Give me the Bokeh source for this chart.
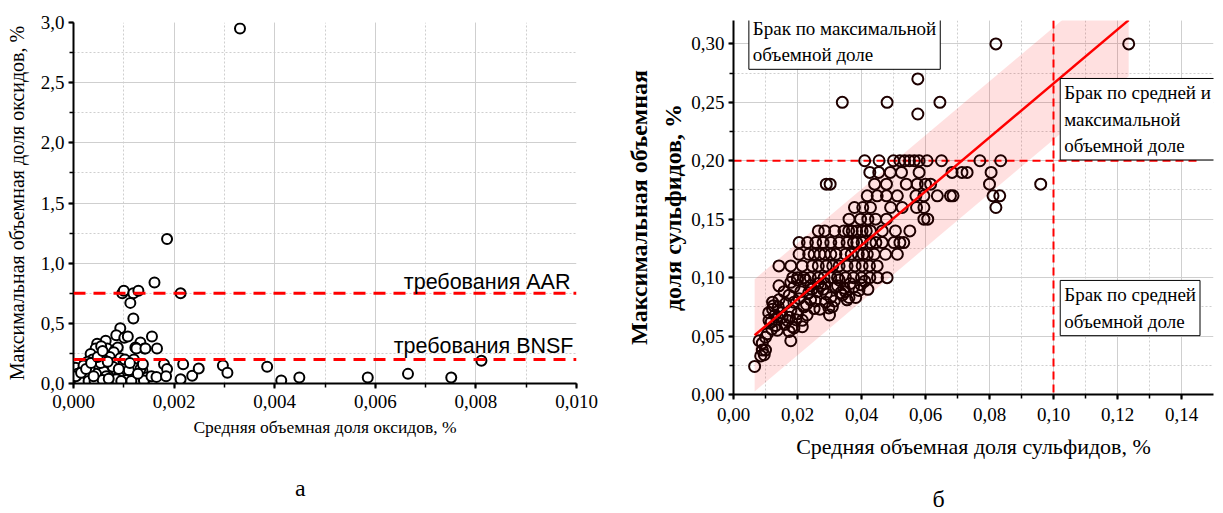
from bokeh.plotting import figure
from bokeh.layouts import row, column
from bokeh.models import (SingleIntervalTicker, CustomJSTickFormatter, Label, Span)
from bokeh.embed import file_html
from bokeh.resources import INLINE

SERIF = "Liberation Serif"
SANS = "Liberation Sans"

# ---- panel "а": oxides (mean vs max volume fraction, %) ----
oxide_mean = [
    0.00331, 0.00186, 0.00161, 0.00097, 0.00100, 0.00119, 0.00129, 0.00213, 0.00113, 0.00119,
    0.00093, 0.00085, 0.00101, 0.00108, 0.00133, 0.00141, 0.00123, 0.00125, 0.00143, 0.00156,
    0.00166, 0.00064, 0.00047, 0.00044, 0.00034, 0.00067, 0.00083, 0.00088, 0.00080, 0.00055,
    0.00060, 0.00072, 0.00038, 0.00050, 0.00093, 0.00120, 0.00028,
    0.00022, 0.00004, 0.00017, 0.00040, 0.00050, 0.00070, 0.00074, 0.00100, 0.00100, 0.00120,
    0.00137, 0.00146, 0.00120, 0.00017, 0.00034, 0.00050, 0.00010, 0.00020, 0.00097, 0.00117,
    0.00133, 0.00080, 0.00063, 0.00030, 0.00060, 0.00085, 0.00110, 0.00026, 0.00045, 0.00065,
    0.00090, 0.00105, 0.00130, 0.00008, 0.00002, 0.00012, 0.00030, 0.00042, 0.00058, 0.00075,
    0.00085, 0.00095, 0.00115, 0.00140, 0.00155, 0.00054, 0.00032, 0.00078,
    0.00005, 0.00015, 0.00025, 0.00035, 0.00048, 0.00058, 0.00068, 0.00090, 0.00102, 0.00112,
    0.00128, 0.00138, 0.00070, 0.00040,
    0.00165, 0.00180, 0.00186, 0.00184, 0.00218, 0.00213, 0.00236, 0.00249, 0.00297, 0.00306,
    0.00385, 0.00413, 0.00449, 0.00585, 0.00665, 0.00751, 0.00811,
]
oxide_max = [
    2.95, 1.20, 0.84, 0.75, 0.77, 0.75, 0.77, 0.75, 0.67, 0.54,
    0.46, 0.40, 0.38, 0.39, 0.34, 0.29, 0.30, 0.29, 0.29, 0.39,
    0.29, 0.355, 0.33, 0.29, 0.245, 0.29, 0.28, 0.30, 0.26, 0.31,
    0.25, 0.22, 0.20, 0.21, 0.21, 0.20, 0.18,
    0.16, 0.13, 0.105, 0.16, 0.13, 0.13, 0.08, 0.16, 0.08, 0.055,
    0.105, 0.05, 0.13, 0.05, 0.045, 0.04, 0.04, 0.15, 0.15, 0.065,
    0.12, 0.17, 0.19, 0.10, 0.10, 0.11, 0.11, 0.07, 0.08, 0.06,
    0.06, 0.03, 0.03, 0.08, 0.02, 0.02, 0.02, 0.02, 0.03, 0.02,
    0.035, 0.02, 0.02, 0.025, 0.06, 0.17, 0.13, 0.14,
    0.06, 0.09, 0.12, 0.17, 0.22, 0.27, 0.18, 0.12, 0.20, 0.17,
    0.08, 0.16, 0.04, 0.06,
    0.055, 0.16, 0.12, 0.06, 0.16, 0.035, 0.065, 0.125, 0.15, 0.09,
    0.14, 0.025, 0.05, 0.05, 0.08, 0.05, 0.19,
]
limit_aar = 0.75
limit_bnsf = 0.20

# ---- panel "б": sulfides ----
# rows of equal maximum fraction (upper part of the cloud)
row_max = [0.30, 0.27, 0.25, 0.24, 0.20, 0.19, 0.18, 0.17, 0.16, 0.15, 0.14, 0.13, 0.12, 0.11, 0.10]
row_mean = [
    [0.082, 0.1235],
    [0.0576],
    [0.034, 0.048, 0.0645],
    [0.0576],
    [0.041, 0.0455, 0.050, 0.052, 0.0535, 0.055, 0.0565, 0.058, 0.0605, 0.065, 0.077, 0.0835],
    [0.0426, 0.0454, 0.049, 0.0525, 0.058, 0.0683, 0.0714, 0.073, 0.0805],
    [0.029, 0.0302, 0.0441, 0.0478, 0.054, 0.0574, 0.060, 0.0616, 0.080, 0.096],
    [0.0418, 0.0449, 0.0478, 0.0512, 0.057, 0.0595, 0.0637, 0.0678, 0.0686, 0.0811, 0.0832],
    [0.0378, 0.0404, 0.0428, 0.0491, 0.0527, 0.0572, 0.0595, 0.082],
    [0.0361, 0.0397, 0.042, 0.0444, 0.0478, 0.0595, 0.0607],
    [0.0265, 0.0285, 0.0316, 0.0345, 0.036, 0.0371, 0.0385, 0.0402, 0.0415, 0.0428, 0.0465, 0.0506, 0.0551],
    [0.0205, 0.0231, 0.0257, 0.028, 0.0304, 0.033, 0.0355, 0.0375, 0.0385, 0.0402, 0.0428, 0.0445,
     0.0465, 0.0501, 0.052, 0.0532],
    [0.0205, 0.0235, 0.0252, 0.027, 0.0285, 0.0304, 0.032, 0.035, 0.0368, 0.039, 0.0405, 0.0418,
     0.044, 0.0475, 0.0512],
    [0.0142, 0.0179, 0.0215, 0.0246, 0.0265, 0.029, 0.031, 0.033, 0.0355, 0.038, 0.0402, 0.0425, 0.0449],
    [0.0185, 0.020, 0.022, 0.024, 0.0265, 0.0283, 0.0304, 0.0325, 0.035, 0.0375, 0.040, 0.0426, 0.045, 0.048],
]
# lower part of the cloud
low_mean = [
    0.0066, 0.0085, 0.0090, 0.0096, 0.0100, 0.0090, 0.0080, 0.0100, 0.0106, 0.0120,
    0.0132, 0.0137, 0.0111, 0.0137, 0.0122, 0.0125, 0.0122, 0.0142, 0.0158, 0.0174,
    0.0142, 0.0179, 0.0189, 0.0174, 0.0179, 0.0184, 0.0189, 0.0168, 0.0179, 0.0200,
    0.0215, 0.0220, 0.0241, 0.0252, 0.0262, 0.0272, 0.0288, 0.0300, 0.0304, 0.0319,
    0.0345, 0.0361, 0.0355, 0.0382, 0.0392, 0.0241, 0.0225, 0.0210, 0.0200, 0.0189,
    0.0163, 0.0309, 0.0285, 0.0330, 0.0365, 0.0410, 0.0150, 0.0160, 0.0195, 0.0230,
    0.0255, 0.0270, 0.0290, 0.0315, 0.0335, 0.0375, 0.0420, 0.0205, 0.0235, 0.0265,
    0.0140, 0.0130, 0.0110, 0.0175, 0.0215, 0.0245, 0.0280, 0.0325, 0.0350, 0.0398,
    0.0152, 0.0118, 0.0228, 0.0298, 0.0340,
]
low_max = [
    0.024, 0.033, 0.038, 0.034, 0.038, 0.044, 0.046, 0.049, 0.052, 0.056,
    0.059, 0.055, 0.0635, 0.066, 0.073, 0.076, 0.079, 0.081, 0.088, 0.085,
    0.093, 0.096, 0.092, 0.054, 0.046, 0.058, 0.057, 0.0635, 0.072, 0.069,
    0.0635, 0.075, 0.081, 0.0735, 0.088, 0.093, 0.079, 0.068, 0.083, 0.092,
    0.091, 0.083, 0.081, 0.083, 0.089, 0.093, 0.098, 0.088, 0.098, 0.079,
    0.078, 0.075, 0.095, 0.098, 0.095, 0.097, 0.070, 0.060, 0.064, 0.068,
    0.080, 0.073, 0.086, 0.080, 0.087, 0.092, 0.090, 0.082, 0.087, 0.095,
    0.075, 0.068, 0.070, 0.066, 0.058, 0.090, 0.090, 0.093, 0.088, 0.094,
    0.066, 0.062, 0.077, 0.074, 0.085,
]
# linear fit max = a + b*mean and half-width of its band
fit_a = 0.0354
fit_b = 2.307
band_half = 0.048
reject_mean = 0.10
reject_max = 0.20

panel_letters = ["а", "б"]

sulf_mean = [x for xs in row_mean for x in xs] + low_mean
sulf_max = [y for y, xs in zip(row_max, row_mean) for _ in xs] + low_max


def comma(digits):
    return CustomJSTickFormatter(code="return tick.toFixed(%d).replace('.', ',');" % digits)


def style(p, xint, yint, xdig, ydig):
    p.outline_line_color = None
    p.background_fill_color = "white"
    p.border_fill_color = "white"
    p.xaxis.ticker = SingleIntervalTicker(interval=xint, num_minor_ticks=2)
    p.yaxis.ticker = SingleIntervalTicker(interval=yint, num_minor_ticks=2)
    p.xgrid.ticker = p.xaxis.ticker
    p.ygrid.ticker = p.yaxis.ticker
    p.xaxis.formatter = comma(xdig)
    p.yaxis.formatter = comma(ydig)
    for ax in (p.xaxis, p.yaxis):
        ax.axis_line_width = 2
        ax.axis_line_color = "black"
        ax.major_tick_line_width = 2
        ax.major_tick_out = 5
        ax.major_tick_in = 0
        ax.minor_tick_line_width = 1.5
        ax.minor_tick_out = 4
        ax.minor_tick_in = 0
        ax.major_label_text_font = SERIF
        ax.major_label_text_font_size = "19px"
        ax.major_label_text_color = "black"
        ax.axis_label_text_font = SERIF
        ax.axis_label_text_font_size = "19px"
        ax.axis_label_text_font_style = "normal"
        ax.axis_label_text_color = "black"
    for g in (p.xgrid, p.ygrid):
        g.grid_line_color = "#cfcfcf"
        g.grid_line_width = 1
        g.minor_grid_line_color = "#cfcfcf"
        g.minor_grid_line_dash = "2 2"
        g.minor_grid_line_width = 1


def letter_strip(chart, height, x, y_from_top, text):
    # a thin, axis-less strip under a chart, sharing its horizontal scale
    s = figure(width=chart.width, height=height,
               x_range=(chart.x_range.start, chart.x_range.end), y_range=(0, height),
               output_backend="svg", toolbar_location=None,
               x_axis_location=None, y_axis_location=None,
               min_border_left=chart.min_border_left, min_border_right=chart.min_border_right,
               min_border_top=0, min_border_bottom=0)
    s.outline_line_color = None
    s.background_fill_color = "white"
    s.border_fill_color = "white"
    s.xgrid.visible = False
    s.ygrid.visible = False
    s.add_layout(Label(x=x, y=height - y_from_top, text=text, text_align="center",
                       text_baseline="middle", text_font=SERIF, text_font_size="24px",
                       text_color="black"))
    return s


TOTAL_W, TOTAL_H = 1223, 513
LEFT_W = 620
LEFT_H, RIGHT_H = 470, 480

# ---- panel "а" ----
p1 = figure(width=LEFT_W, height=LEFT_H, x_range=(0, 0.010), y_range=(0, 3.0),
            output_backend="svg", toolbar_location=None,
            min_border_left=73, min_border_right=44, min_border_top=22, min_border_bottom=LEFT_H - 383)
style(p1, 0.002, 0.5, 3, 1)
p1.xaxis.axis_label = "Средняя объемная доля оксидов, %"
p1.yaxis.axis_label = "Максимальная объемная доля оксидов, %"
p1.xaxis.axis_label_text_font_size = "17.5px"
p1.yaxis.axis_label_text_font_size = "20px"
p1.xaxis.major_label_standoff = 6
p1.xaxis.axis_label_standoff = 6
p1.yaxis.major_label_standoff = 4
p1.yaxis.axis_label_standoff = 10

for lim in (limit_aar, limit_bnsf):
    p1.add_layout(Span(location=lim, dimension="width", line_color="#ff0000",
                       line_width=3, line_dash="12 8"))

p1.scatter(oxide_mean, oxide_max, marker="circle", size=10, fill_color="white",
           line_color="black", line_width=2)

p1.add_layout(Label(x=0.00988, y=limit_aar + 0.095, text="требования AAR", text_align="right",
                    text_baseline="alphabetic", text_font=SANS, text_font_size="21.5px",
                    text_color="black"))
p1.add_layout(Label(x=0.00994, y=limit_bnsf + 0.11, text="требования BNSF", text_align="right",
                    text_baseline="alphabetic", text_font=SANS, text_font_size="21.5px",
                    text_color="black"))

# ---- panel "б" ----
p2 = figure(width=TOTAL_W - LEFT_W, height=RIGHT_H, x_range=(0, 0.15), y_range=(0, 0.32),
            output_backend="svg", toolbar_location=None,
            min_border_left=113, min_border_right=10, min_border_top=20, min_border_bottom=RIGHT_H - 394)
style(p2, 0.02, 0.05, 2, 2)
p2.xaxis.axis_label = "Средняя объемная доля сульфидов, %"
p2.yaxis.axis_label = "Максимальная объемная\nдоля сульфидов, %"
p2.yaxis.axis_label_text_font_style = "bold"
p2.yaxis.axis_label_text_font_size = "24px"
p2.yaxis.axis_label_text_line_height = 1.3
p2.xaxis.axis_label_text_font_size = "22px"
p2.xaxis.major_label_standoff = 8
p2.xaxis.axis_label_standoff = 10
p2.yaxis.major_label_standoff = 4
p2.yaxis.axis_label_standoff = 2

x0, x1 = min(sulf_mean), max(sulf_mean)
band_x = [x0, x1, x1, x0]
band_y = [fit_a + fit_b * x0 - band_half, fit_a + fit_b * x1 - band_half,
          fit_a + fit_b * x1 + band_half, fit_a + fit_b * x0 + band_half]
p2.patch(band_x, band_y, fill_color="#ff0000", fill_alpha=0.12, line_color=None)

p2.line([0, 0.146], [reject_max, reject_max], line_color="#ff0000", line_width=2, line_dash="8 5")
p2.add_layout(Span(location=reject_mean, dimension="height", line_color="#ff0000",
                   line_width=2, line_dash="8 5"))

p2.scatter(sulf_mean, sulf_max, marker="circle", size=11, fill_color=None,
           line_color="#1e0000", line_width=2)

p2.line([x0, x1], [fit_a + fit_b * x0, fit_a + fit_b * x1], line_color="#ff0000", line_width=2.5)

box = dict(text_font=SERIF, text_font_size="19px", text_color="black", text_align="left",
           text_baseline="top", border_line_color="black", border_line_width=1,
           background_fill_color="white", padding=4, text_line_height=1.25)
p2.add_layout(Label(x=0.0048, y=0.3255, text="Брак по максимальной\nобъемной доле", **box))
p2.add_layout(Label(x=0.1021, y=0.2704, text="Брак по средней и\nмаксимальной\nобъемной доле", **box))
p2.add_layout(Label(x=0.1021, y=0.0976, text="Брак по средней\nобъемной доле", **box))

# panel letters under each chart (x in each chart's own units)
s1 = letter_strip(p1, TOTAL_H - LEFT_H, 0.00451, 487 - LEFT_H, panel_letters[0])
s2 = letter_strip(p2, TOTAL_H - RIGHT_H, 0.0641, 498 - RIGHT_H, panel_letters[1])

layout = row(column(p1, s1, spacing=0), column(p2, s2, spacing=0), spacing=0)
open("out.html", "w").write(file_html(layout, INLINE))
